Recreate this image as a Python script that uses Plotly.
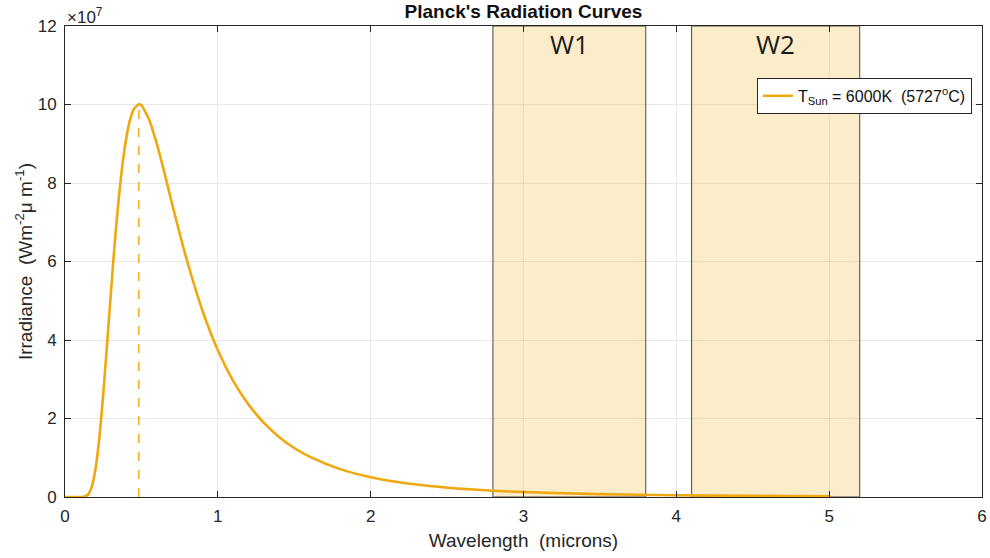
import plotly.graph_objects as go

# Spectral irradiance of a 6000 K black body (W m^-2 um^-1)
wavelength_um = [0.0, 0.05, 0.10, 0.12, 0.15, 0.175, 0.20, 0.225, 0.25, 0.275, 0.30,
                 0.325, 0.35, 0.375, 0.40, 0.425, 0.45, 0.483, 0.50, 0.55, 0.60,
                 0.65, 0.70, 0.75, 0.80, 0.90, 1.0, 1.1, 1.2, 1.3, 1.4, 1.5, 1.6,
                 1.8, 2.0, 2.2, 2.4, 2.6, 2.8, 3.0, 3.5, 4.0, 4.5, 5.0]
irradiance = [0.0, 0.0, 1.4e3, 3.1e4, 5.6e5, 2.56e6, 7.26e6, 1.52e7, 2.61e7, 3.88e7, 5.19e7,
              6.45e7, 7.54e7, 8.44e7, 9.12e7, 9.60e7, 9.88e7, 1.0006e8, 9.98e7, 9.62e7, 9.01e7,
              8.27e7, 7.48e7, 6.72e7, 6.00e7, 4.74e7, 3.74e7, 2.96e7, 2.36e7, 1.893e7, 1.531e7,
              1.248e7, 1.027e7, 7.10e6, 5.05e6, 3.68e6, 2.74e6, 2.08e6, 1.605e6, 1.258e6,
              7.24e5, 4.45e5, 2.88e5, 1.946e5]

# Wien peak
peak_wavelength = 0.483
peak_irradiance = 1.0006e8

# Atmospheric windows (microns)
window_names = ["W1", "W2"]
window_start = [2.8, 4.1]
window_end = [3.8, 5.2]

x_ticks = [0, 1, 2, 3, 4, 5, 6]
y_tick_vals = [0, 2e7, 4e7, 6e7, 8e7, 10e7, 12e7]
y_tick_text = ["0", "2", "4", "6", "8", "10", "12"]

curve_color = "#EFA80F"
axis_color = "#262626"
font_family = "Liberation Sans, Arial, sans-serif"

fig = go.Figure()

fig.add_trace(go.Scatter(
    x=[peak_wavelength, peak_wavelength], y=[0, peak_irradiance],
    mode="lines", line=dict(color=curve_color, width=1.4, dash="dash"),
    showlegend=False, hoverinfo="skip"))

fig.add_trace(go.Scatter(
    x=wavelength_um, y=irradiance, mode="lines",
    line=dict(color=curve_color, width=2.6, shape="spline", smoothing=0.6),
    name="T<sub>Sun</sub> = 6000K  (5727<sup>o</sup>C)"))

for name, x0, x1 in zip(window_names, window_start, window_end):
    fig.add_shape(type="rect", xref="x", yref="y", x0=x0, x1=x1, y0=0, y1=12e7,
                  fillcolor="rgba(237,177,32,0.24)",
                  line=dict(color="#4a4a4a", width=1), layer="between")
    fig.add_annotation(x=(x0 + x1) / 2, y=11.55e7, text=name, showarrow=False,
                       font=dict(family="Open Sans, sans-serif", size=26, color="#1a1a1a"))

fig.add_annotation(xref="paper", yref="paper", x=0.0, y=1.0, xanchor="left", yanchor="bottom",
                   text="×10<sup>7</sup>", showarrow=False,
                   font=dict(family=font_family, size=17, color=axis_color), yshift=-3)

fig.update_layout(
    width=990, height=558,
    margin=dict(l=65, r=8, t=26, b=61),
    paper_bgcolor="white", plot_bgcolor="white",
    font=dict(family=font_family, size=17, color=axis_color),
    title=dict(text="<b>Planck's Radiation Curves</b>", x=0.5, xref="paper",
               y=0.98, yanchor="middle", font=dict(size=19, color="#111111")),
    showlegend=True,
    legend=dict(x=0.989, y=0.89, xanchor="right", yanchor="top",
                bgcolor="white", bordercolor=axis_color, borderwidth=1,
                font=dict(size=16, color="#111111"), itemwidth=30),
)

fig.update_xaxes(range=[0, 6], tickvals=x_ticks, ticks="inside", ticklen=6,
                 tickcolor=axis_color, showline=True, linecolor=axis_color, linewidth=1,
                 mirror="allticks", showgrid=True, gridcolor="#e8e8e8", zeroline=False,
                 automargin=False,
                 title=dict(text="Wavelength  (microns)", font=dict(size=19), standoff=8),
                 tickfont=dict(size=17), ticklabelstandoff=4)
fig.update_yaxes(range=[0, 12e7], tickvals=y_tick_vals, ticktext=y_tick_text,
                 ticks="inside", ticklen=6, tickcolor=axis_color, showline=True,
                 linecolor=axis_color, linewidth=1, mirror="allticks", showgrid=True,
                 gridcolor="#e8e8e8", zeroline=False, automargin=False,
                 title=dict(text="Irradiance  (Wm<sup>-2</sup>μ m<sup>-1</sup>)",
                            font=dict(size=19), standoff=0),
                 tickfont=dict(size=17), ticklabelstandoff=4)

fig.write_html("out.html")
